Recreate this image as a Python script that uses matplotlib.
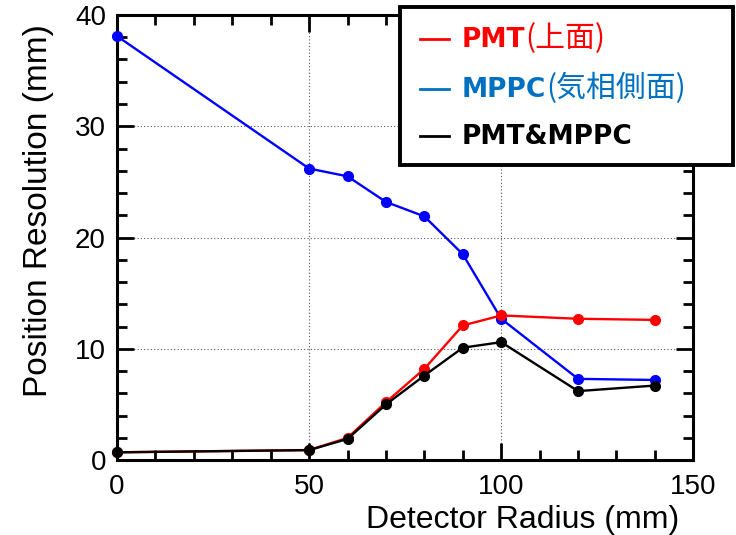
import matplotlib.pyplot as plt
from matplotlib.lines import Line2D
from matplotlib.patches import Rectangle
from matplotlib.ticker import MultipleLocator

radius = [0, 50, 60, 70, 80, 90, 100, 120, 140]
res_pmt = [0.7, 0.9, 2.0, 5.2, 8.2, 12.1, 13.0, 12.7, 12.6]
res_mppc = [38.1, 26.2, 25.5, 23.2, 21.9, 18.5, 12.7, 7.3, 7.2]
res_both = [0.7, 0.9, 1.9, 5.0, 7.6, 10.1, 10.6, 6.2, 6.7]

legend_rows = [
    ("PMT", "(上面)", "#ff0000"),
    ("MPPC", "(気相側面)", "#0070c0"),
    ("PMT&MPPC", "", "black"),
]

plt.rcParams["font.family"] = ["Liberation Sans", "DejaVu Sans"]

fig = plt.figure(figsize=(7.36, 5.35), dpi=100)
ax = fig.add_axes([0.159, 0.140, 0.783, 0.832])

kw = dict(lw=1.7, marker="o", ms=7, clip_on=False)
ax.plot(radius, res_mppc, color="#0000ff", zorder=3, **kw)
ax.plot(radius, res_pmt, color="#ff0000", zorder=4, **kw)
ax.plot(radius, res_both, color="black", zorder=5, **kw)

ax.set_xlim(0, 150)
ax.set_ylim(0, 40)
ax.xaxis.set_major_locator(MultipleLocator(50))
ax.xaxis.set_minor_locator(MultipleLocator(10))
ax.yaxis.set_major_locator(MultipleLocator(10))
ax.yaxis.set_minor_locator(MultipleLocator(2))
ax.grid(True, which="major", ls=(0, (1, 2)), color="#555555", lw=0.8)

ax.tick_params(which="both", direction="in", top=True, right=True, width=2, labelsize=20)
ax.tick_params(which="major", length=12)
ax.tick_params(which="minor", length=7)
ax.tick_params(axis="x", pad=10)
ax.tick_params(axis="y", pad=8)
for sp in ax.spines.values():
    sp.set_linewidth(2.2)

ax.set_ylabel("Position Resolution (mm)", fontsize=24)
ax.yaxis.set_label_coords(-0.11, 0.56)
ax.set_xlabel("Detector Radius (mm)", fontsize=23, ha="right")
ax.xaxis.set_label_coords(0.975, -0.10)

# hand-made legend box (mixed bold / normal text)
fig.add_artist(Rectangle((400 / 736, 1 - 165 / 535), 333 / 736, 158 / 535,
                         transform=fig.transFigure, facecolor="white",
                         edgecolor="black", lw=2.8, zorder=10))

latin = ["DejaVu Sans", "Noto Sans CJK JP"]
cjk = ["Noto Sans CJK JP", "DejaVu Sans"]
row_base = [47, 97, 144]
renderer = fig.canvas.get_renderer()
for (bold_part, plain_part, color), yp in zip(legend_rows, row_base):
    y = 1 - yp / 535
    ly = 1 - (yp - 8) / 535
    fig.add_artist(Line2D([420 / 736, 449 / 736], [ly, ly],
                          transform=fig.transFigure, color=color, lw=2, zorder=11))
    t = fig.text(462 / 736, y, bold_part, color=color, fontsize=19,
                 fontweight="bold", family=latin, va="baseline", zorder=11)
    if plain_part:
        bb = t.get_window_extent(renderer)
        fig.text(bb.x1 / fig.bbox.width, y, plain_part, color=color,
                 fontsize=21.5, family=cjk, va="baseline", zorder=11)

fig.savefig("out.png", dpi=100)
